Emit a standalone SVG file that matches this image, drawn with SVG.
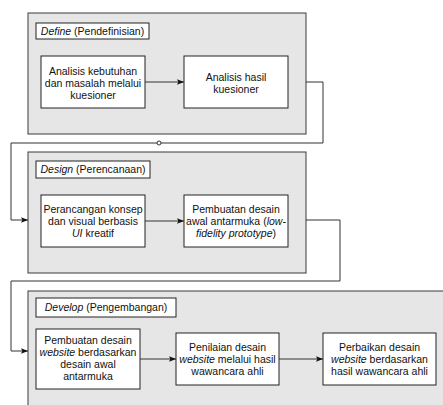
<svg xmlns="http://www.w3.org/2000/svg" width="443" height="405" viewBox="0 0 443 405">
<style>
.cont{fill:#e6e6e6;stroke:#3a3a3a;stroke-width:1}
.box{fill:#ffffff;stroke:#222;stroke-width:1}
.lbl{fill:#ffffff;stroke:#222;stroke-width:1}
text{font-family:"Liberation Sans",Arial,sans-serif;font-size:10.5px;fill:#111;text-anchor:middle}
.conn{fill:none;stroke:#333;stroke-width:1}
</style>
<defs>
<marker id="ah" viewBox="0 0 10 10" refX="10" refY="5" markerWidth="7" markerHeight="7" markerUnits="userSpaceOnUse" orient="auto">
<path d="M0,1 L10,5 L0,9 L2,5 Z" fill="#111"/>
</marker>
</defs>
<rect width="443" height="405" fill="#ffffff"/>
<g id="define">
<rect class="cont" x="28" y="13" width="278" height="121"/>
<rect class="lbl" x="36" y="23" width="113" height="16"/>
<text x="92.5" y="34.7"><tspan font-style="italic">Define</tspan> (Pendefinisian)</text>
</g>
<g id="design">
<rect class="cont" x="28" y="152" width="278" height="121"/>
<rect class="lbl" x="36" y="161" width="114" height="17"/>
<text x="93" y="173.2"><tspan font-style="italic">Design</tspan> (Perencanaan)</text>
</g>
<g id="develop">
<rect class="cont" x="28" y="291" width="430" height="130"/>
<rect class="lbl" x="36" y="298" width="140" height="19"/>
<text x="106" y="311.2"><tspan font-style="italic">Develop</tspan> (Pengembangan)</text>
</g>
<g id="n1">
<rect class="box" x="41" y="56" width="104" height="52"/>
<text x="93" y="74.5">Analisis kebutuhan</text>
<text x="93" y="86.5">dan masalah melalui</text>
<text x="93" y="98.5">kuesioner</text>
</g>
<g id="n2">
<rect class="box" x="184" y="56" width="104" height="52"/>
<text x="236" y="80.5">Analisis hasil</text>
<text x="236" y="92.5">kuesioner</text>
</g>
<g id="n3">
<rect class="box" x="41" y="195" width="104" height="52"/>
<text x="93" y="213">Perancangan konsep</text>
<text x="93" y="225">dan visual berbasis</text>
<text x="93" y="237"><tspan font-style="italic">UI</tspan> kreatif</text>
</g>
<g id="n4">
<rect class="box" x="184" y="195" width="104" height="52"/>
<text x="236" y="213">Pembuatan desain</text>
<text x="236" y="225">awal antarmuka (<tspan font-style="italic">low-</tspan></text>
<text x="236" y="237"><tspan font-style="italic">fidelity prototype</tspan>)</text>
</g>
<g id="n5">
<rect class="box" x="36" y="329" width="104" height="60"/>
<text x="88" y="344.2">Pembuatan desain</text>
<text x="88" y="356.2"><tspan font-style="italic">website</tspan> berdasarkan</text>
<text x="88" y="368.2">desain awal</text>
<text x="88" y="380.2">antarmuka</text>
</g>
<g id="n6">
<rect class="box" x="176" y="333" width="103" height="52"/>
<text x="227.5" y="350.7">Penilaian desain</text>
<text x="227.5" y="362.7"><tspan font-style="italic">website</tspan> melalui hasil</text>
<text x="227.5" y="374.7">wawancara ahli</text>
</g>
<g id="n7">
<rect class="box" x="323" y="333" width="113" height="52"/>
<text x="379.5" y="350.7">Perbaikan desain</text>
<text x="379.5" y="362.7"><tspan font-style="italic">website</tspan> berdasarkan</text>
<text x="379.5" y="374.7">hasil wawancara ahli</text>
</g>
<g id="connectors">
<path class="conn" stroke="#111" d="M145,82 L184,82" marker-end="url(#ah)"/>
<path class="conn" stroke="#111" d="M145,221 L184,221" marker-end="url(#ah)"/>
<path class="conn" stroke="#111" d="M140,359 L176,359" marker-end="url(#ah)"/>
<path class="conn" stroke="#111" d="M279,359 L323,359" marker-end="url(#ah)"/>
<path class="conn" d="M306,82 L323,82 L323,143 L11,143 L11,220 L28,220" marker-end="url(#ah)"/>
<circle cx="159" cy="143" r="2" fill="#fff" stroke="#333" stroke-width="1"/>
<path class="conn" d="M306,220 L340,220 L340,281 L11,281 L11,351 L28,351" marker-end="url(#ah)"/>
</g>
</svg>
